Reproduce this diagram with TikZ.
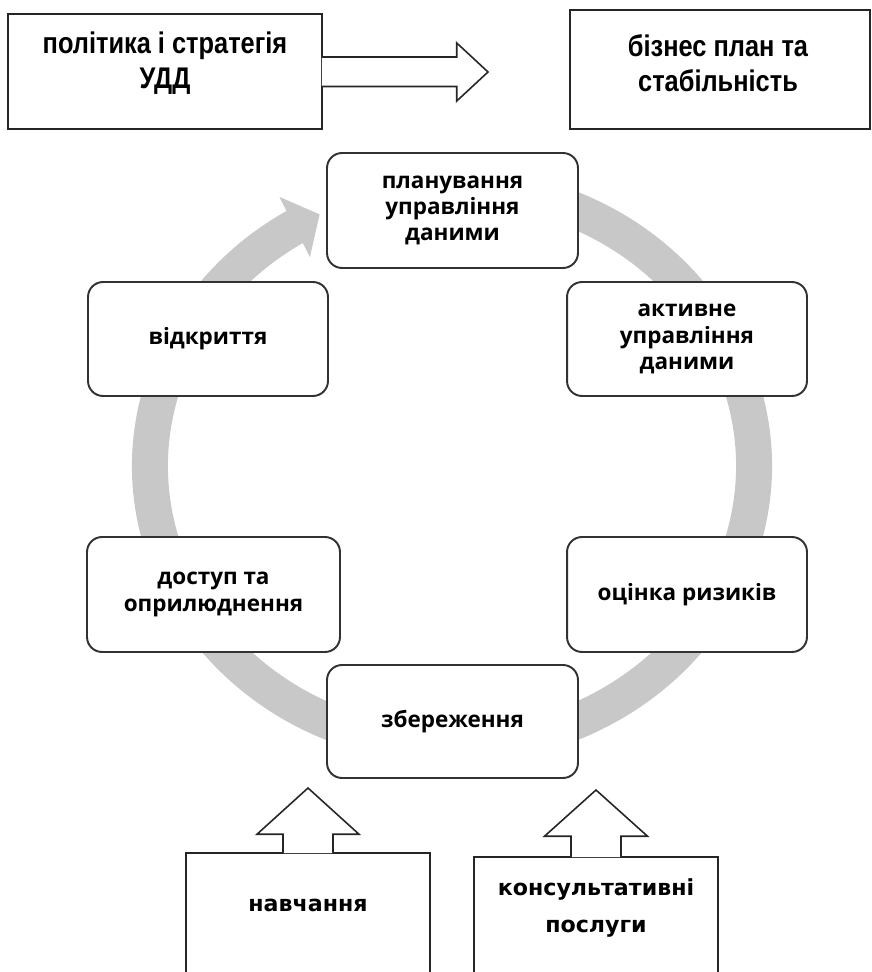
\documentclass[tikz,border=0pt]{standalone}
\usepackage{fontspec}
\usetikzlibrary{arrows.meta,bending}
\newfontfamily\boxfont{Open Sans}
\newfontfamily\narrowfont[FakeStretch=0.85]{Liberation Sans}
\newfontfamily\widefont{DejaVu Sans}
\definecolor{ringgray}{RGB}{200,200,200}
\definecolor{edgegray}{RGB}{50,50,50}

\begin{document}
\begin{tikzpicture}[x=0.02cm,y=-0.02cm,
  stage/.style={draw=edgegray,line width=1.1pt,fill=white,rounded corners=0.3cm,
    align=center,inner sep=0pt,font=\boxfont\bfseries\fontsize{12.8}{14.9}\selectfont},
  plainbox/.style={draw=black!85,line width=0.9pt,fill=white,inner sep=0pt},
  blockarrow/.style={draw=black!85,line width=0.9pt,fill=white},
  toptext/.style={align=center,font=\narrowfont\bfseries\fontsize{17}{19.8}\selectfont},
  bottext/.style={align=center,font=\widefont\bfseries\fontsize{12.6}{21}\selectfont}]
\clip (0,0) rectangle (871,972);

\coordinate (ringc) at (452,466);
\draw [ringgray,line width=0.72cm,-{Triangle[length=0.56cm,width=1.32cm]}]
  ([shift={(-75:302 and 280)}]ringc) arc [start angle=-75,end angle=244,x radius=302,y radius=280];

\node [stage,minimum width=5.02cm,minimum height=2.3cm] (plan) at (452.5,210.5) {планування\\управління\\даними};
\node [stage,minimum width=4.8cm,minimum height=2.28cm] (discover) at (208,339) {відкриття};
\node [stage,minimum width=4.8cm,minimum height=2.28cm] (active) at (687,339) {активне\\управління\\даними};
\node [stage,minimum width=5.06cm,minimum height=2.3cm] (access) at (213.5,594.5) {доступ та\\оприлюднення};
\node [stage,minimum width=4.8cm,minimum height=2.3cm] (risk) at (687,594.5) {оцінка ризиків};
\node [stage,minimum width=5.02cm,minimum height=2.26cm] (storage) at (452.5,721.5) {збереження};

\node [plainbox,minimum width=6.28cm,minimum height=2.3cm] (policy) at (165,71.5) {};
\node [toptext] (policytext) at (165,63) {політика і стратегія\\УДД};
\node [plainbox,minimum width=6cm,minimum height=2.38cm] (business) at (720,69.5) {};
\node [toptext] (businesstext) at (718,63) {бізнес план та\\стабільність};
\coordinate (policytip) at (488,72);
\filldraw [blockarrow] ([shift={(-1,-14.5)}]policy.east) -- ([shift={(134,-14.5)}]policy.east)
  -- ([shift={(134,-28.5)}]policy.east) -- (policytip) -- ([shift={(134,29.5)}]policy.east)
  -- ([shift={(134,15)}]policy.east) -- ([shift={(-1,15)}]policy.east);

\node [plainbox,minimum width=4.88cm,minimum height=3cm] (train) at (308,928) {};
\node [bottext] (traintext) at (308,905) {навчання};
\coordinate (traintip) at (308,788);
\filldraw [blockarrow] ([shift={(-25,1)}]train.north) -- ([shift={(-25,-18)}]train.north)
  -- ([shift={(-51,-18)}]train.north) -- (traintip) -- ([shift={(51,-18)}]train.north)
  -- ([shift={(25,-18)}]train.north) -- ([shift={(25,1)}]train.north);

\node [plainbox,minimum width=4.88cm,minimum height=3cm] (advice) at (596,932) {};
\node [bottext] (advicetext) at (596,908) {консультативні\\послуги};
\coordinate (advicetip) at (596,790);
\filldraw [blockarrow] ([shift={(-25,1)}]advice.north) -- ([shift={(-25,-20)}]advice.north)
  -- ([shift={(-51.5,-20)}]advice.north) -- (advicetip) -- ([shift={(51.5,-20)}]advice.north)
  -- ([shift={(25,-20)}]advice.north) -- ([shift={(25,1)}]advice.north);
\end{tikzpicture}
\end{document}
